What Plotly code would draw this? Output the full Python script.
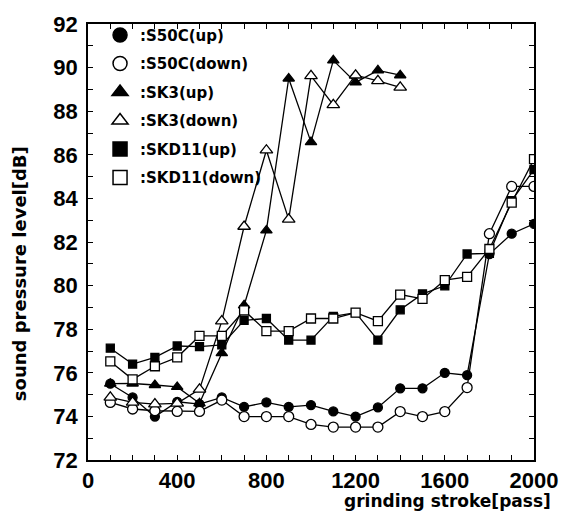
import plotly.graph_objects as go

stroke = [100, 200, 300, 400, 500, 600, 700, 800, 900, 1000,
          1100, 1200, 1300, 1400, 1500, 1600, 1700, 1800, 1900, 2000]
stroke_sk3 = [100, 200, 300, 400, 500, 600, 700, 800, 900, 1000,
              1100, 1200, 1300, 1400]

s50c_up = [75.50, 74.87, 73.99, 74.67, 74.56, 74.87, 74.44, 74.64, 74.44, 74.52,
           74.23, 73.99, 74.41, 75.29, 75.29, 76.00, 75.89, 81.45, 82.38, 82.83]
s50c_down = [74.64, 74.34, 74.26, 74.23, 74.23, 74.75, 73.99, 73.99, 73.99, 73.63,
             73.51, 73.51, 73.51, 74.22, 73.99, 74.22, 75.32, 82.38, 84.55, 84.55]
sk3_up = [75.50, 75.51, 75.44, 75.35, 74.60, 76.90, 79.09, 82.53, 89.50, 86.58,
          90.33, 89.32, 89.87, 89.65]
sk3_down = [74.87, 74.64, 74.56, 74.60, 75.24, 78.37, 82.71, 86.21, 83.04, 89.62,
            88.29, 89.65, 89.39, 89.09]
skd11_up = [77.13, 76.40, 76.71, 77.23, 77.20, 77.28, 78.41, 78.49, 77.50, 77.50,
            78.59, 78.76, 77.50, 78.89, 79.62, 79.99, 81.45, 81.48, 83.90, 85.32]
skd11_down = [76.52, 75.70, 76.30, 76.71, 77.69, 77.69, 78.86, 77.91, 77.91, 78.49,
              78.49, 78.76, 78.37, 79.59, 79.39, 80.25, 80.40, 81.68, 83.81, 85.80]

labels = [":S50C(up)", ":S50C(down)", ":SK3(up)", ":SK3(down)", ":SKD11(up)", ":SKD11(down)"]
xtick_vals = [0, 400, 800, 1200, 1600, 2000]
ytick_vals = [72, 74, 76, 78, 80, 82, 84, 86, 88, 90, 92]

series = [
    (stroke, s50c_up, "circle", "black", 9),
    (stroke, s50c_down, "circle", "white", 10),
    (stroke_sk3, sk3_up, "triangle-up", "black", 10),
    (stroke_sk3, sk3_down, "triangle-up", "white", 11),
    (stroke, skd11_up, "square", "black", 8),
    (stroke, skd11_down, "square", "white", 9),
]

FONT = "Liberation Sans, Arial, sans-serif"
WIDE = "DejaVu Sans, sans-serif"
fig = go.Figure()
for i, (xs, ys, sym, fill, sz) in enumerate(series):
    fig.add_trace(go.Scatter(
        x=xs, y=ys, mode="lines+markers", showlegend=False,
        line=dict(color="black", width=1.3),
        marker=dict(symbol=sym, size=sz, color=fill, line=dict(color="black", width=1.3)),
    ))
for i, (xs, ys, sym, fill, sz) in enumerate(series):
    fig.add_trace(go.Scatter(
        x=[None], y=[None], mode="markers", name=labels[i], legendgroup=f"g{i}",
        marker=dict(symbol=sym, size=14, color=fill, line=dict(color="black", width=1.5)),
    ))

axis_common = dict(
    showline=True, linecolor="black", linewidth=1.5, mirror="allticks",
    ticks="inside", ticklen=5, tickwidth=1, tickcolor="black",
    showgrid=False, zeroline=False,
    tickfont=dict(family=FONT, size=22, color="black", weight="bold"),
)
fig.update_xaxes(range=[0, 2000], tickvals=xtick_vals,
                 minor=dict(dtick=100, ticks="inside", ticklen=5, tickcolor="black"),
                 **axis_common)
fig.update_yaxes(range=[72, 92], tickvals=ytick_vals, ticklabelstandoff=4,
                 minor=dict(dtick=1, ticks="inside", ticklen=5, tickcolor="black"),
                 **axis_common)

fig.add_annotation(text="grinding stroke[pass]", xref="paper", yref="paper",
                   x=1.042, y=-0.094, xanchor="right", yanchor="middle", showarrow=False,
                   font=dict(family=WIDE, size=17, color="black", weight="bold"))
fig.add_annotation(text="sound pressure level[dB]", xref="paper", yref="paper",
                   x=-0.153, y=0.428, xanchor="center", yanchor="middle", textangle=-90,
                   showarrow=False,
                   font=dict(family=WIDE, size=18, color="black", weight="bold"))

fig.update_layout(
    width=573, height=522,
    margin=dict(l=88, r=39, t=19, b=62),
    plot_bgcolor="white", paper_bgcolor="white",
    legend=dict(x=0.027, y=1.012, xanchor="left", yanchor="top",
                bgcolor="rgba(0,0,0,0)", tracegroupgap=6, itemwidth=30,
                font=dict(family=WIDE, size=15, color="black", weight="bold")),
)
fig.write_html("out.html")
